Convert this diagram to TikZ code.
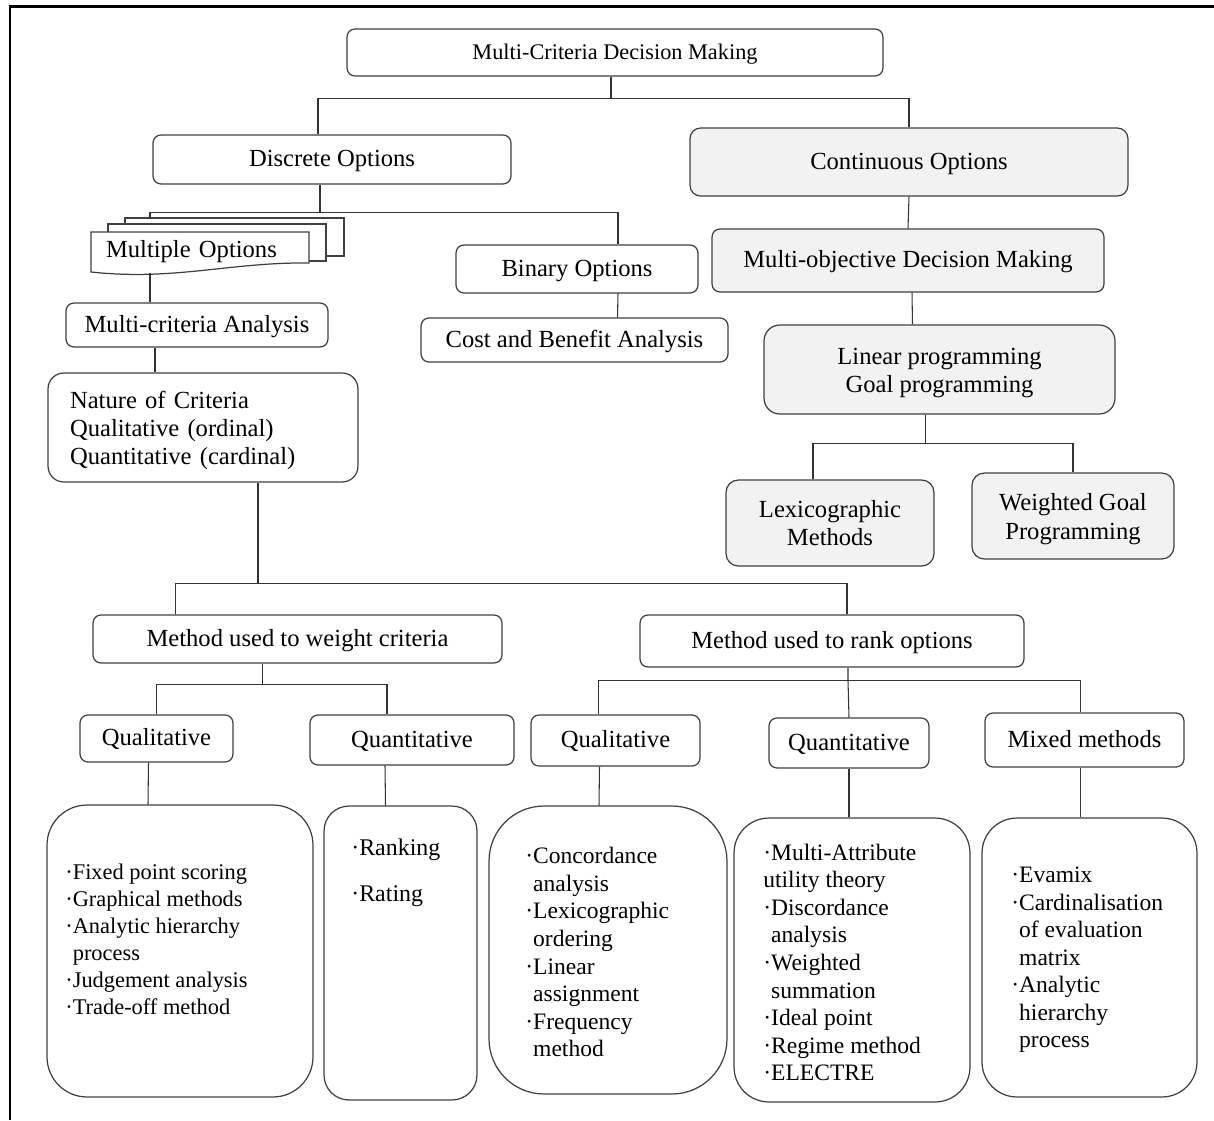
\documentclass[tikz,border=0pt]{standalone}
\usepackage{fontspec}
\setmainfont{Liberation Serif}
\usetikzlibrary{positioning,calc}
\definecolor{boxgray}{HTML}{F2F2F2}
\tikzset{
  bx/.style={rectangle, rounded corners=4.5pt, draw=black!75, line width=0.7pt, fill=white, inner sep=0pt, text centered, text height=0.92em, text depth=0.1em, font=\fontsize{14}{16}\selectfont},
  gb/.style={bx, fill=boxgray},
  mb/.style={text height=, text depth=},
  lb/.style={rectangle, draw=black!75, line width=0.7pt, inner sep=0pt},
  lt/.style={inner sep=0pt, anchor=north west, align=left, font=\fontsize{13.4}{15.7}\selectfont},
  ln/.style={draw=black!80, line width=0.6pt}
}

\begin{document}
\begin{tikzpicture}[x=0.02cm, y=-0.02cm]
	\useasboundingbox (0,0) rectangle (1214,1120);
	\draw[line width=1.6pt] (10,1120) -- (10,6.5) -- (1214,6.5);
	% top levels
	\node[bx, minimum width=10.72cm, minimum height=0.94cm, font=\fontsize{12.7}{15}\selectfont] (mcdm) at (615,52.5) {Multi-Criteria Decision Making};
	\node[bx, minimum width=7.16cm, minimum height=0.98cm] (discrete) at (332,159.5) {Discrete Options};
	\node[gb, rounded corners=6pt, minimum width=8.76cm, minimum height=1.36cm] (continuous) at (909,162) {Continuous Options};
	% multiple options sheets
	\draw[lb, fill=white] (125,218) rectangle (344,256);
	\draw[lb, fill=white] (108,224) rectangle (326,261);
	\draw[lb, fill=white] (91,232) -- (309,232) -- (309,263) .. controls (230,262) and (175,281) .. (91,272) -- cycle;
	\node[inner sep=0pt, minimum width=4.36cm, minimum height=0.62cm, font=\fontsize{14}{16}\selectfont, align=left, text width=3.76cm] (multiple) at (200,252) {Multiple Options};
	\node[bx, minimum width=4.84cm, minimum height=0.96cm] (binary) at (577,269) {Binary Options};
	\node[bx, minimum width=5.24cm, minimum height=0.88cm] (mca) at (197,325) {Multi-criteria Analysis};
	\node[bx, minimum width=6.14cm, minimum height=0.88cm] (cba) at (574.5,340) {Cost and Benefit Analysis};
	\node[bx, mb, rounded corners=9pt, minimum width=6.2cm, minimum height=2.18cm, align=left, text width=5.32cm] (nature) at (203,427.5) {\rule{0pt}{0.92em}Nature of Criteria\\Qualitative (ordinal)\\Quantitative (cardinal)};
	\node[gb, minimum width=7.84cm, minimum height=1.26cm] (modm) at (908,260.5) {Multi-objective Decision Making};
	\node[gb, mb, rounded corners=9pt, minimum width=7.02cm, minimum height=1.78cm, align=center] (lp) at (939.5,369.5) {\rule{0pt}{0.95em}Linear programming\\Goal programming};
	\node[gb, mb, rounded corners=7pt, minimum width=4.16cm, minimum height=1.72cm, align=center] (lex) at (830,523) {Lexicographic\\Methods};
	\node[gb, mb, rounded corners=7pt, minimum width=4.04cm, minimum height=1.72cm, align=center] (wgp) at (1073,516) {\rule{0pt}{0.95em}Weighted Goal\\Programming};
	% methods
	\node[bx, minimum width=8.18cm, minimum height=0.96cm] (weight) at (297.5,639) {Method used to weight criteria};
	\node[bx, minimum width=7.68cm, minimum height=1.04cm] (rank) at (832,641) {Method used to rank options};
	\node[bx, minimum width=3.06cm, minimum height=0.94cm] (qual1) at (156.5,738.5) {Qualitative};
	\node[bx, minimum width=4.08cm, minimum height=1.0cm] (quant1) at (412,740) {Quantitative};
	\node[bx, minimum width=3.38cm, minimum height=1.02cm] (qual2) at (615.5,740.5) {Qualitative};
	\node[bx, minimum width=3.2cm, minimum height=1.0cm] (quant2) at (849,743) {Quantitative};
	\node[bx, minimum width=3.98cm, minimum height=1.08cm] (mixed) at (1084.5,740) {Mixed methods};
	% lists
	\node[lb, rounded corners=0.8cm, minimum width=5.32cm, minimum height=5.84cm] (boxA) at (180,951) {};
	\node[lb, rounded corners=0.5cm, minimum width=3.06cm, minimum height=5.88cm] (boxB) at (400.5,953) {};
	\node[lb, rounded corners=1.1cm, minimum width=4.76cm, minimum height=5.76cm] (boxC) at (608,950) {};
	\node[lb, rounded corners=0.7cm, minimum width=4.72cm, minimum height=5.68cm] (boxD) at (852,960) {};
	\node[lb, rounded corners=0.7cm, minimum width=4.3cm, minimum height=5.58cm] (boxE) at (1089.5,957.5) {};
	\node[lt, font=\fontsize{12.75}{15.3}\selectfont] (listA) at (65,864) {·Fixed point scoring\\·Graphical methods\\·Analytic hierarchy\\\hphantom{·}process\\·Judgement analysis\\·Trade-off method};
	\node[lt, font=\fontsize{13.6}{16}\selectfont] (listB) at (351,839) {·Ranking\\[10pt]·Rating};
	\node[lt] (listC) at (525,847) {·Concordance\\\hphantom{·}analysis\\·Lexicographic\\\hphantom{·}ordering\\·Linear\\\hphantom{·}assignment\\·Frequency\\\hphantom{·}method};
	\node[lt] (listD) at (763,843.5) {·Multi-Attribute\\utility theory\\·Discordance\\\hphantom{·}analysis\\·Weighted\\\hphantom{·}summation\\·Ideal point\\·Regime method\\·ELECTRE};
	\node[lt] (listE) at (1011,866.5) {·Evamix\\·Cardinalisation\\\hphantom{·}of evaluation\\\hphantom{·}matrix\\·Analytic\\\hphantom{·}hierarchy\\\hphantom{·}process};
	%
	\draw[ln] ($(mcdm.south)+(-4,0)$) -- ++(0,22) coordinate (mc);
	\draw[ln] ($(discrete.north)+(-14,0)$) |- (mc) -| (continuous.north);
	\draw[ln] ($(discrete.south)+(-12,0)$) -- ++(0,28) coordinate (dc);
	\draw[ln] ($(multiple.north)+(-50,-17)$) |- (dc) -| ($(binary.north)+(41,0)$);
	\draw[ln] ($(mca.north)+(-47,0)$) -- ++(0,-29);
	\draw[ln] ($(mca.south)+(-42,0)$) -- ($(nature.north)+(-48,0)$);
	\draw[ln] ($(binary.south)+(41,0)$) -- ($(cba.north)+(43,0)$);
	\draw[ln] (continuous.south) -- (modm.north);
	\draw[ln] ($(modm.south)+(4,0)$) -- ($(lp.north)+(-27,0)$);
	\draw[ln] ($(lp.south)+(-14,0)$) -- ++(0,29) coordinate (lc);
	\draw[ln] ($(lex.north)+(-17,0)$) |- (lc) -| (wgp.north);
	\draw[ln] ($(nature.south)+(55,0)$) -- ++(0,101) coordinate (nc);
	\draw[ln] ($(weight.north)+(-122,0)$) |- (nc) -| ($(rank.north)+(15,0)$);
	\draw[ln] ($(weight.south)+(-35,0)$) -- ++(0,21) coordinate (wc);
	\draw[ln] (qual1.north) |- (wc) -| ($(quant1.north)+(-25,0)$);
	\draw[ln] ($(rank.south)+(16,0)$) -- ++(0,13) coordinate (rc) -- (quant2.north);
	\draw[ln] ($(qual2.north)+(-17,0)$) |- (rc) -| ($(mixed.north)+(-4,0)$);
	\draw[ln] ($(qual1.south)+(-8,0)$) -- ($(boxA.north)+(-32,0)$);
	\draw[ln] ($(quant1.south)+(-27,0)$) -- ($(boxB.north)+(-15,0)$);
	\draw[ln] ($(qual2.south)+(-16,0)$) -- ($(boxC.north)+(-9,0)$);
	\draw[ln] (quant2.south) -- ($(boxD.north)+(-3,0)$);
	\draw[ln] ($(mixed.south)+(-4,0)$) -- ($(boxE.north)+(-9,0)$);
\end{tikzpicture}
\end{document}
